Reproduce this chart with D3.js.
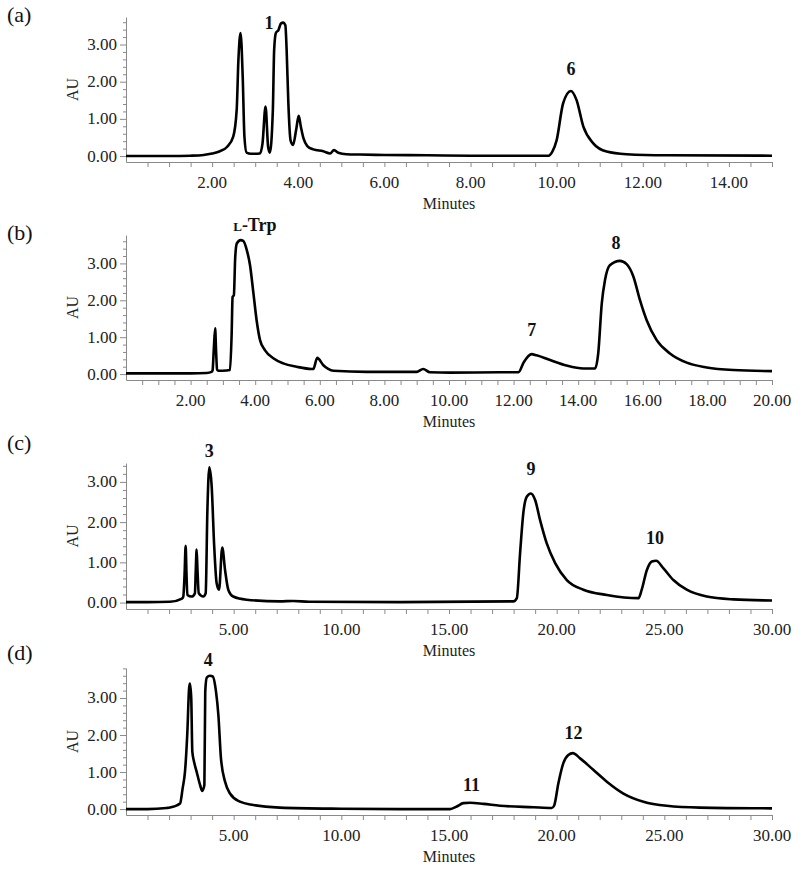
<!DOCTYPE html>
<html><head><meta charset="utf-8">
<script src="https://cdn.jsdelivr.net/npm/d3@7"></script>
<style>
body{margin:0;background:#fff;}
svg{display:block;font-family:"Liberation Serif","Times New Roman",serif;}
</style></head>
<body><svg id="c" width="800" height="870"></svg>
<script>
// ---- data (minutes, AU) ----
const traceA = [[0,0.0],[0.5,0.0],[1.0,0.0],[1.5,0.01],[1.8,0.03],[2.0,0.07],[2.18,0.13],[2.35,0.25],[2.49,0.52],[2.57,1.24],[2.61,2.58],[2.66,3.31],[2.71,2.13],[2.75,0.52],[2.80,0.09],[2.9,0.06],[3.11,0.07],[3.17,0.34],[3.24,1.33],[3.30,0.25],[3.34,0.09],[3.41,1.24],[3.44,2.85],[3.48,3.31],[3.54,3.39],[3.60,3.57],[3.65,3.59],[3.70,3.52],[3.73,2.85],[3.77,1.42],[3.82,0.43],[3.88,0.30],[3.95,0.70],[4.01,1.08],[4.06,0.79],[4.12,0.48],[4.21,0.27],[4.35,0.18],[4.58,0.13],[4.74,0.07],[4.83,0.16],[4.93,0.09],[5.12,0.05],[5.43,0.04],[6.0,0.03],[7.0,0.02],[8.0,0.01],[9.0,0.01],[9.81,0.01],[9.9,0.12],[10.0,0.43],[10.15,1.42],[10.33,1.75],[10.46,1.51],[10.62,0.79],[10.85,0.34],[11.16,0.12],[11.62,0.05],[12.55,0.02],[15,0.01]];
const traceB = [[0,0.02],[1,0.02],[2,0.02],[2.5,0.03],[2.65,0.06],[2.68,0.1],[2.72,0.7],[2.76,1.24],[2.79,0.6],[2.82,0.12],[2.86,0.09],[3.0,0.09],[3.22,0.11],[3.27,1.06],[3.30,2.09],[3.34,2.14],[3.38,3.14],[3.43,3.54],[3.55,3.63],[3.63,3.61],[3.74,3.36],[3.84,2.95],[3.94,2.23],[4.05,1.42],[4.15,0.92],[4.30,0.65],[4.56,0.43],[4.87,0.29],[5.28,0.20],[5.75,0.14],[5.8,0.14],[5.92,0.44],[6.11,0.24],[6.26,0.14],[6.42,0.09],[7.45,0.06],[8.48,0.06],[9.0,0.06],[9.2,0.14],[9.41,0.05],[10.03,0.04],[11.58,0.05],[12.15,0.05],[12.32,0.33],[12.56,0.54],[12.71,0.51],[13.13,0.38],[13.64,0.23],[14.16,0.15],[14.52,0.15],[14.62,0.56],[14.73,1.92],[14.83,2.55],[14.98,2.95],[15.29,3.07],[15.50,2.98],[15.71,2.64],[15.91,2.01],[16.12,1.46],[16.43,0.92],[16.84,0.56],[17.36,0.31],[17.98,0.18],[18.80,0.11],[20,0.08]];
const traceC = [[0,0.01],[1,0.01],[2.04,0.02],[2.6,0.1],[2.66,0.15],[2.72,0.7],[2.77,1.41],[2.81,0.7],[2.85,0.19],[3.05,0.15],[3.20,0.23],[3.24,0.8],[3.28,1.32],[3.32,0.8],[3.38,0.23],[3.59,0.15],[3.70,0.23],[3.78,2.30],[3.87,3.36],[3.98,2.88],[4.09,1.47],[4.21,0.48],[4.32,0.32],[4.47,1.37],[4.60,0.81],[4.75,0.32],[4.98,0.15],[5.60,0.07],[7.15,0.03],[7.76,0.04],[8.5,0.02],[12.73,0.01],[17.99,0.03],[18.15,0.11],[18.30,1.22],[18.45,2.22],[18.61,2.63],[18.80,2.71],[19.0,2.55],[19.23,2.05],[19.54,1.47],[19.93,0.98],[20.47,0.56],[21.24,0.32],[22.33,0.19],[23.80,0.11],[23.95,0.32],[24.19,0.81],[24.42,1.02],[24.62,1.04],[24.96,0.85],[25.42,0.56],[26.04,0.32],[26.97,0.15],[28.21,0.08],[30,0.05]];
const traceD = [[0,0.0],[1,0.0],[1.89,0.03],[2.04,0.04],[2.51,0.15],[2.63,0.56],[2.74,1.01],[2.85,2.09],[2.93,3.26],[2.97,3.39],[3.03,2.99],[3.08,1.55],[3.16,1.28],[3.28,1.01],[3.44,0.65],[3.54,0.49],[3.64,0.65],[3.68,3.17],[3.75,3.55],[3.90,3.60],[4.03,3.58],[4.18,3.17],[4.29,2.54],[4.41,1.37],[4.60,0.74],[4.83,0.42],[5.29,0.20],[5.91,0.11],[7.15,0.04],[10,0.01],[12.73,0.0],[15.05,0.0],[15.36,0.07],[15.67,0.16],[15.98,0.17],[16.60,0.14],[17.37,0.09],[18.92,0.05],[19.77,0.03],[19.88,0.09],[20.08,0.70],[20.31,1.24],[20.54,1.46],[20.75,1.51],[21.09,1.37],[21.70,1.06],[22.33,0.74],[23.10,0.42],[24.03,0.20],[25.11,0.09],[26.66,0.04],[30,0.02]];

// peak labels: [text, minutes, AU]
const peaksA = [["1",3.32,3.41],["6",10.33,2.18]];
const peaksB = [["L-Trp",3.99,3.88],["7",12.56,1.02],["8",15.17,3.40]];
const peaksC = [["3",3.87,3.61],["9",18.81,3.16],["10",24.57,1.45]];
const peaksD = [["4",3.82,3.86],["11",16.05,0.50],["12",20.78,1.88]];

const panelNames = ["(a)","(b)","(c)","(d)"];
const xMax = [15,20,30,30];
const xLabelTicks = [[2,4,6,8,10,12,14],[2,4,6,8,10,12,14,16,18,20],[5,10,15,20,25,30],[5,10,15,20,25,30]];
const xMinorStep = [0.5,0.5,1,1];
const yMin = [-0.16,-0.16,-0.16,-0.16];
const yMax = [3.74,3.77,3.47,3.81];
const yLabelTicks = [0,1,2,3];
const xTitle = "Minutes", yTitle = "AU";

// ---- layout ----
const svg = d3.select("#c");
const left = 126, right = 772;
const tops = [17,235,463,668], bottoms = [162,380,609,815];
const labelY = [22,240,450,660];
const traces = [traceA,traceB,traceC,traceD];
const peaks = [peaksA,peaksB,peaksC,peaksD];
const axisCol = "#8a8a8a";

traces.forEach((tr,i)=>{
  const g = svg.append("g");
  const x = d3.scaleLinear().domain([0,xMax[i]]).range([left,right]);
  const y = d3.scaleLinear().domain([yMin[i],yMax[i]]).range([bottoms[i],tops[i]]);
  const b = bottoms[i];

  // x axis
  const minor = d3.range(xMinorStep[i], xMax[i]+1e-9, xMinorStep[i]);
  const xa = g.append("g").attr("transform",`translate(0,${b})`)
    .call(d3.axisBottom(x).tickValues(minor).tickSize(5).tickSizeOuter(0).tickFormat(""));
  xa.select(".domain").attr("stroke",axisCol);
  xa.selectAll(".tick line").attr("stroke",axisCol);
  g.selectAll(".xl").data(xLabelTicks[i]).join("text")
    .attr("x",d=>x(d)).attr("y",b+26).attr("text-anchor","middle")
    .attr("font-size",17).attr("fill","#222").text(d=>d.toFixed(2));
  g.append("text").attr("x",(left+right)/2).attr("y",b+46.5).attr("text-anchor","middle")
    .attr("font-size",16).attr("fill","#222").text(xTitle);

  // y axis
  const yminor = d3.range(0, yMax[i]+1e-9, 0.2).filter(v=>Math.abs(v-Math.round(v))>1e-6);
  const ya = g.append("g").attr("transform",`translate(${left},0)`)
    .call(d3.axisLeft(y).tickValues(yminor).tickSize(3).tickSizeOuter(0).tickFormat(""));
  ya.select(".domain").attr("stroke",axisCol);
  ya.selectAll(".tick line").attr("stroke",axisCol);
  const ym = g.append("g").attr("transform",`translate(${left},0)`)
    .call(d3.axisLeft(y).tickValues(yLabelTicks).tickSize(6).tickSizeOuter(0).tickFormat(""));
  ym.select(".domain").remove();
  ym.selectAll(".tick line").attr("stroke",axisCol);
  g.selectAll(".yl").data(yLabelTicks).join("text")
    .attr("x",left-9).attr("y",d=>y(d)+5.5).attr("text-anchor","end")
    .attr("font-size",17).attr("fill","#222").text(d=>d.toFixed(2));
  g.append("text").attr("transform",`translate(78,${(tops[i]+b)/2}) rotate(-90)`)
    .attr("text-anchor","middle").attr("font-size",16).attr("fill","#222").text(yTitle);

  // panel label
  g.append("text").attr("x",7).attr("y",labelY[i]).attr("font-size",22).attr("fill","#111").text(panelNames[i]);

  // trace
  const line = d3.line().x(d=>x(d[0])).y(d=>y(d[1])).curve(d3.curveMonotoneX);
  g.append("path").datum(tr).attr("d",line).attr("fill","none")
    .attr("stroke","#000").attr("stroke-width",2.6).attr("stroke-linejoin","round");

  // peak labels
  peaks[i].forEach(p=>{
    const t = g.append("text").attr("x",x(p[1])).attr("y",y(p[2])).attr("text-anchor","middle")
      .attr("font-size",18).attr("font-weight","bold").attr("fill","#111");
    if (p[0].startsWith("L-")) {
      t.append("tspan").attr("font-size",13).text("L");
      t.append("tspan").text(p[0].slice(1));
    } else t.text(p[0]);
  });
});
</script></body></html>
